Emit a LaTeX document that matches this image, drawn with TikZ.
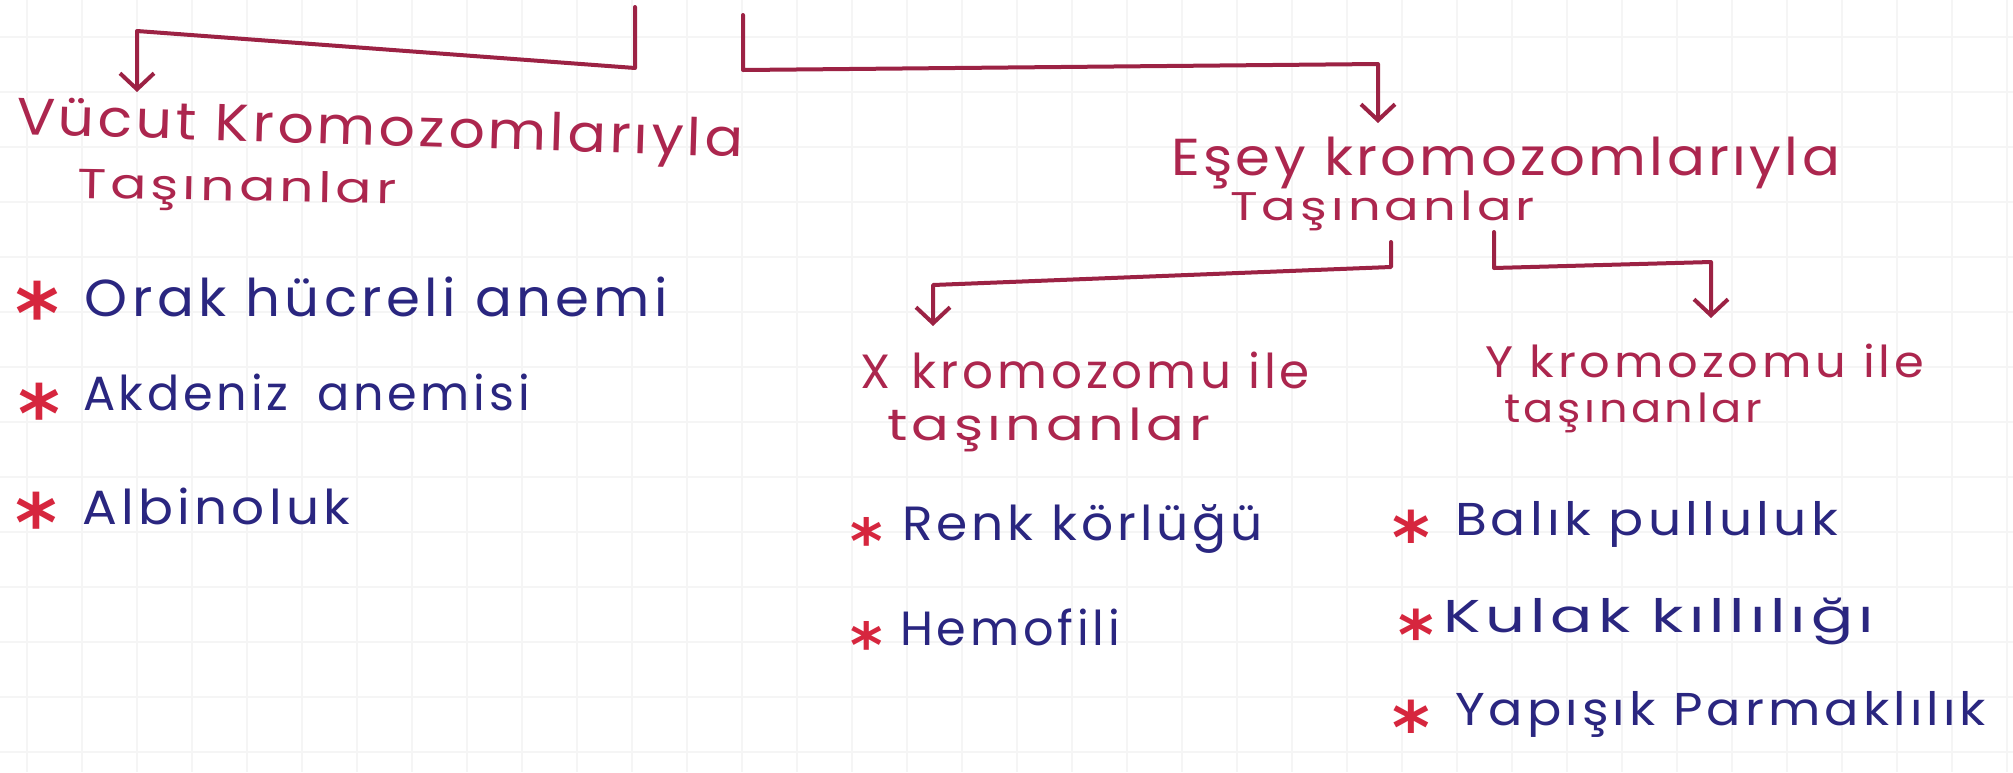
\documentclass[tikz,border=0pt]{standalone}
\usepackage{fontspec}
\usepackage{graphicx}
\setmainfont{Poppins}
\newfontfamily\starfont{DejaVu Sans}
\usetikzlibrary{arrows.meta}

\definecolor{inkred}{RGB}{172,38,78}
\definecolor{linered}{RGB}{156,34,68}
\definecolor{inkblue}{RGB}{42,38,128}
\definecolor{starred}{RGB}{214,38,62}
\definecolor{paperline}{RGB}{245,245,245}

% pen size and letter spacing
\newcommand\pen[2]{\fontsize{#1}{#1}\selectfont\addfontfeature{LetterSpace=#2}}
% stretch a word group to a given width, keeping its height
\newcommand\fitw[2]{\resizebox{#1}{\height}{#2}}
% red bullet star: box width, star size, drop (em)
\newcommand\itemstar[3]{\makebox[#1][l]{\starfont\bfseries\fontsize{#2}{#2}\selectfont\raisebox{-#3em}{\color{starred}*}}}

\tikzset{
  hand/.style={anchor=base west, inner sep=0pt, outer sep=0pt},
  head/.style={hand, text=inkred},
  entry/.style={hand, text=inkblue},
  conn/.style={draw=linered, line width=4pt, line cap=round, line join=round},
  arr/.style={conn, -{Straight Barb[length=16pt,width=34pt]}}
}

\begin{document}
\begin{tikzpicture}[x=1pt,y=-1pt]
\fill[white] (0,0) rectangle (2013,772);
\useasboundingbox (0,0) rectangle (2013,772);

% squared paper
\foreach \gx in {27,82,...,2013} \draw[paperline,line width=1.5pt] (\gx,0) -- (\gx,772);
\foreach \gy in {37,92,...,772} \draw[paperline,line width=1.5pt] (0,\gy) -- (2013,\gy);

% headings
\node[head, rotate=-1.8] (vucut) at (16,134) {\pen{52}{6}\fitw{727pt}{Vücut Kromozomlarıyla}};
\node[head, rotate=-1] (tasL) at (77,198) {\pen{42}{8}\fitw{319pt}{Taşınanlar}};
\node[head] (esey) at (1171,175) {\pen{52}{6}\fitw{669pt}{Eşey kromozomlarıyla}};
\node[head] (tasR) at (1230,220) {\pen{40}{8}\fitw{305pt}{Taşınanlar}};
\node[head] (xkrom) at (860,388) {\pen{48}{8}\fitw{450pt}{X\hspace{0.45em}kromozomu ile}};
\node[head] (tasX) at (887,440) {\pen{44}{8}\fitw{323pt}{taşınanlar}};
\node[head] (ykrom) at (1485,377) {\pen{44}{8}\fitw{439pt}{Y kromozomu ile}};
\node[head] (tasY) at (1504,422) {\pen{40}{8}\fitw{258pt}{taşınanlar}};

% lists
\node[entry] (orak) at (15,316) {\itemstar{70pt}{84}{0.33}\pen{52}{8}\fitw{583pt}{Orak hücreli anemi}};
\node[entry] (akdeniz) at (19,410) {\itemstar{64pt}{80}{0.40}\pen{48}{8}\fitw{447pt}{Akdeniz\hspace{0.6em}anemisi}};
\node[entry] (albino) at (16,524) {\itemstar{67pt}{80}{0.34}\pen{48}{8}\fitw{267pt}{Albinoluk}};
\node[entry] (renk) at (850,540) {\itemstar{52pt}{62}{0.38}\pen{48}{8}\fitw{361pt}{Renk körlüğü}};
\node[entry] (hemo) at (850,645) {\itemstar{50pt}{62}{0.36}\pen{48}{8}\fitw{220pt}{Hemofili}};
\node[entry] (balik) at (1392,535) {\itemstar{63pt}{72}{0.40}\pen{46}{8}\fitw{383pt}{Balık pulluluk}};
\node[entry] (kulak) at (1398,632) {\itemstar{45pt}{68}{0.40}\pen{46}{8}\fitw{431pt}{Kulak kıllılığı}};
\node[entry] (yapisik) at (1392,725) {\itemstar{63pt}{72}{0.40}\pen{46}{8}\fitw{531pt}{Yapışık Parmaklılık}};

% connector corners
\coordinate (topL) at (635,7);
\coordinate (elbowL) at (635,68);
\coordinate (cornerL) at (137,31);
\coordinate (tipL) at (137,92);
\coordinate (topR) at (743,15);
\coordinate (elbowR) at (743,70);
\coordinate (cornerR) at (1378,64);
\coordinate (tipR) at (1378,123);
\coordinate (fromX) at (1391,242);
\coordinate (elbowX) at (1391,267);
\coordinate (cornerX) at (933,285);
\coordinate (tipX) at (933,326);
\coordinate (fromY) at (1494,232);
\coordinate (elbowY) at (1494,268);
\coordinate (cornerY) at (1711,262);
\coordinate (tipY) at (1711,318);

\draw[arr] (topL) -- (elbowL) -- (cornerL) -- (tipL);
\draw[arr] (topR) -- (elbowR) -- (cornerR) -- (tipR);
\draw[arr] (fromX) -- (elbowX) -- (cornerX) -- (tipX);
\draw[arr] (fromY) -- (elbowY) -- (cornerY) -- (tipY);
\end{tikzpicture}
\end{document}
